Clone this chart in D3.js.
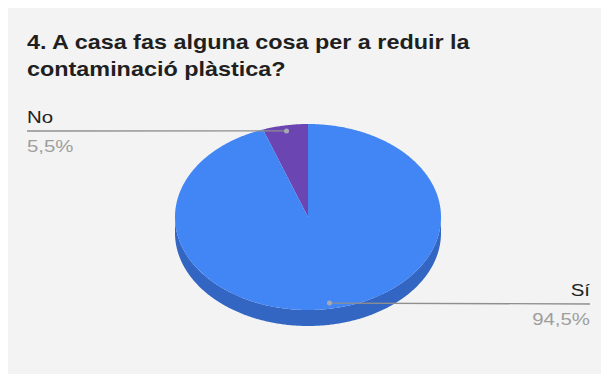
<!DOCTYPE html>
<html>
<head>
<meta charset="utf-8">
<script src="https://cdn.jsdelivr.net/npm/d3@7"></script>
<style>
  html, body { margin: 0; padding: 0; background: #ffffff; }
  svg { display: block; }
  text { font-family: "Liberation Sans", Arial, sans-serif; }
</style>
</head>
<body>
<svg id="chart" width="601" height="374"></svg>
<script>
// Survey answers
const titleLines = ["4. A casa fas alguna cosa per a reduir la", "contaminació plàstica?"];
const categories = ["No", "Sí"];
const values = [5.5, 94.5];
const percentLabels = ["5,5%", "94,5%"];
const topColors = ["#6b45b2", "#4285f4"];
const sideColors = ["#4e3290", "#3366c2"];

const svg = d3.select("#chart");
const W = 601, H = 374;
const stretch = 1.2; // text is drawn slightly widened

svg.append("rect")
  .attr("x", 8).attr("y", 8)
  .attr("width", W - 8).attr("height", H - 8)
  .attr("fill", "#f3f3f3");

// Widened text helper: scale horizontally about the anchor point
function addText(g, x, y, str, size, opts = {}) {
  return g.append("text")
    .attr("transform", `translate(${x},${y}) scale(${stretch},1)`)
    .attr("text-anchor", opts.anchor || "start")
    .attr("font-size", size)
    .attr("font-weight", opts.weight || "normal")
    .attr("fill", opts.fill || "#222222")
    .text(str);
}

// Title
const titleG = svg.append("g");
titleLines.forEach((t, i) => addText(titleG, 27, 49 + i * 27, t, 19.5, { weight: "bold", fill: "#1f1f1f" }));

// Tilted pie geometry
const cx = 308, cy = 217, rx = 133, ry = 93, depth = 16;
const pt = (theta, r = 1, dy = 0) => [cx + rx * r * Math.sin(theta), cy - ry * r * Math.cos(theta) + dy];

// Slices laid out counter-clockwise from 12 o'clock, "No" first
const pie = d3.pie().sort(null).value(d => d.value);
const slices = pie(categories.map((c, i) => ({ name: c, value: values[i], i })))
  .map(s => ({ ...s, a0: -s.endAngle, a1: -s.startAngle }));

const arcPoints = (a0, a1, r = 1, dy = 0) => {
  const n = Math.max(2, Math.ceil(Math.abs(a1 - a0) / 0.01));
  return d3.range(n + 1).map(k => pt(a0 + (a1 - a0) * k / n, r, dy));
};
const line = d3.line();

// Outer side wall: only the front half (angles between PI/2 and 3PI/2, mod 2PI)
const norm = a => ((a % (2 * Math.PI)) + 2 * Math.PI) % (2 * Math.PI);
const sideG = svg.append("g");
slices.forEach(s => {
  const a0 = norm(s.a0), a1 = a0 + (s.a1 - s.a0);
  [[Math.PI / 2, 3 * Math.PI / 2], [Math.PI / 2 + 2 * Math.PI, 3 * Math.PI / 2 + 2 * Math.PI]].forEach(([f0, f1]) => {
    const b0 = Math.max(a0, f0), b1 = Math.min(a1, f1);
    if (b1 > b0) {
      const topPts = arcPoints(b0, b1);
      const botPts = arcPoints(b1, b0, 1, depth);
      sideG.append("path")
        .attr("d", line(topPts.concat(botPts)) + "Z")
        .attr("fill", sideColors[s.data.i]);
    }
  });
});

// Top faces
svg.append("g").selectAll("path")
  .data(slices)
  .join("path")
  .attr("d", s => line([[cx, cy]].concat(arcPoints(s.a0, s.a1))) + "Z")
  .attr("fill", s => topColors[s.data.i]);

// Leader lines and labels
const labelG = svg.append("g");
slices.forEach(s => {
  const mid = (s.a0 + s.a1) / 2;
  const [dx, dy] = pt(mid, 0.94);
  const left = Math.sin(mid) < 0;
  const endX = left ? 27 : 590;
  const lineY = left ? 131 : 304;
  labelG.append("path")
    .attr("d", line([[dx, dy], [endX, lineY]]))
    .attr("stroke", "#8f8f8f")
    .attr("stroke-width", 1.3)
    .attr("fill", "none");
  labelG.append("circle")
    .attr("cx", dx).attr("cy", dy).attr("r", 2.5)
    .attr("fill", "#a9a9b5");
  const anchor = left ? "start" : "end";
  addText(labelG, endX, lineY - 8, s.data.name, 17, { anchor });
  addText(labelG, endX, lineY + 21, percentLabels[s.data.i], 17, { anchor, fill: "#9e9e9e" });
});
</script>
</body>
</html>
